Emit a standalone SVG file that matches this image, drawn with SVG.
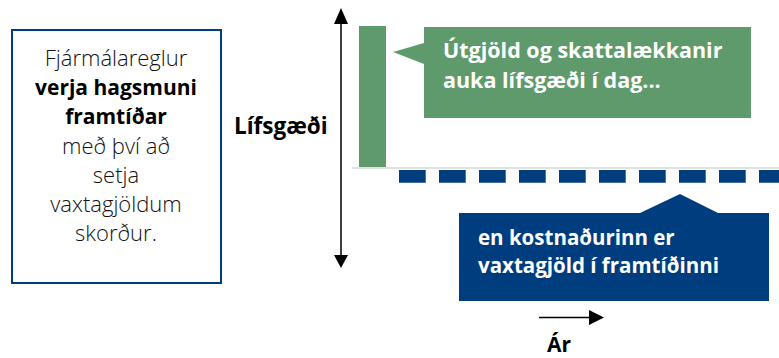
<svg xmlns="http://www.w3.org/2000/svg" width="779" height="358" viewBox="0 0 779 358">
<style>
.lbl{font-family:"Open Sans","Noto Sans","Liberation Sans",sans-serif;}
.body{font-size:22px;font-weight:300;fill:#111;text-anchor:middle;}
.bold{font-weight:700;font-size:21px;fill:#000;}
.wt{font-size:21.5px;font-weight:700;fill:#ffffff;}
.wb{font-size:20.5px;font-weight:700;fill:#ffffff;}
.ax{font-size:22.5px;font-weight:700;fill:#000;}
</style>
<rect width="779" height="358" fill="#fff"/>
<g id="rule-box">
<rect x="12" y="30" width="209" height="253" fill="#fff" stroke="#003d7e" stroke-width="2"/>
<text class="lbl body" x="116" y="66">Fjármálareglur</text>
<text class="lbl body bold" x="116" y="95">verja hagsmuni</text>
<text class="lbl body bold" x="116" y="124">framtíðar</text>
<text class="lbl body" x="116" y="154">með því að</text>
<text class="lbl body" x="116" y="183">setja</text>
<text class="lbl body" x="116" y="212">vaxtagjöldum</text>
<text class="lbl body" x="116" y="241">skorður.</text>
</g>
<g id="connectors">
<line x1="341" y1="24" x2="341" y2="255" stroke="#000" stroke-width="1.5"/>
<path d="M334,24 L341,8 L348,24 Z" fill="#000"/>
<path d="M334,255 L341,268 L348,255 Z" fill="#000"/>
<line x1="352" y1="168" x2="779" y2="168" stroke="#d9d9d9" stroke-width="1.6"/>
<line x1="399" y1="176.3" x2="779" y2="176.3" stroke="#003d7e" stroke-width="12.7" stroke-dasharray="26.7 13.3"/>
<line x1="539" y1="317.5" x2="590" y2="317.5" stroke="#000" stroke-width="1.5"/>
<path d="M589,310 L604,317.5 L589,325 Z" fill="#000"/>
</g>
<g id="green-bar">
<rect x="359" y="26" width="27" height="141" fill="#5f9a6d"/>
</g>
<g id="green-callout">
<path d="M424,27 L751,27 L751,118 L424,118 L424,64 L393,52 L424,43 Z" fill="#5f9a6d"/>
<text class="lbl wt" x="443" y="58">Útgjöld og skattalækkanir</text>
<text class="lbl wt" x="443" y="88">auka lífsgæði í dag...</text>
</g>
<g id="blue-callout">
<path d="M459,213 L640,213 L680,194 L718,213 L769,213 L769,301 L459,301 Z" fill="#003d7e"/>
<text class="lbl wb" x="478" y="245">en kostnaðurinn er</text>
<text class="lbl wb" x="478" y="273">vaxtagjöld í framtíðinni</text>
</g>
<g id="axis-labels">
<text class="lbl ax" x="234" y="134">Lífsgæði</text>
<text class="lbl ax" x="559" y="352" text-anchor="middle" style="font-size:21px">Ár</text>
</g>
</svg>
